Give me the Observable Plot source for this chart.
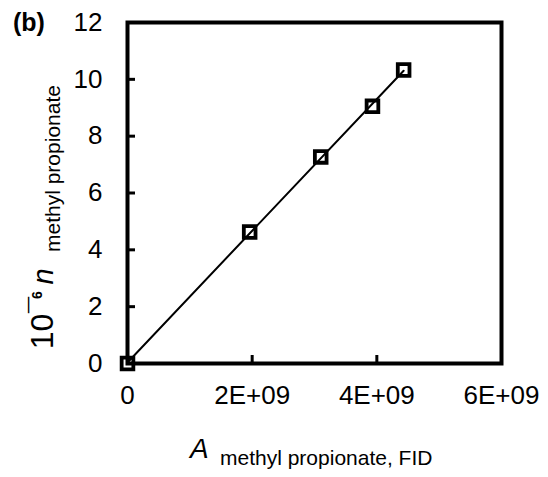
<!DOCTYPE html>
<html>
<head>
<meta charset="utf-8">
<script src="https://cdn.jsdelivr.net/npm/d3@7"></script>
<script src="https://cdn.jsdelivr.net/npm/@observablehq/plot@0.6"></script>
<style>
  html, body { margin: 0; padding: 0; background: white; }
  #chart { width: 548px; height: 477px; }
</style>
</head>
<body>
<div id="chart"></div>
<script>
// Data
const areaFID = [0, 1.96e9, 3.10e9, 3.93e9, 4.43e9];
const nMethylPropionate = [0, 4.63, 7.27, 9.05, 10.33];
const xTicks = [0, 2e9, 4e9, 6e9];
const xTickLabels = ["0", "2E+09", "4E+09", "6E+09"];
const yTicks = [0, 2, 4, 6, 8, 10, 12];

const data = areaFID.map((a, i) => ({a, n: nMethylPropionate[i]}));
const fmtX = d => xTickLabels[xTicks.indexOf(d)];

const font = "'Liberation Sans', Arial, Helvetica, sans-serif";

const svg = Plot.plot({
  width: 548,
  height: 477,
  marginLeft: 127,
  marginRight: 47,
  marginTop: 22,
  marginBottom: 114,
  style: {fontFamily: font, fontSize: "26px", color: "black", background: "white"},
  x: {domain: [0, 6e9]},
  y: {domain: [0, 12]},
  marks: [
    Plot.axisX({ticks: xTicks, tickFormat: fmtX, tickSize: -8, tickPadding: 30, strokeWidth: 3, label: null}),
    Plot.axisY({ticks: yTicks, tickSize: -8, tickPadding: 33, strokeWidth: 3, label: null}),
    Plot.frame({stroke: "black", strokeWidth: 4}),
    Plot.linearRegressionY(data, {x: "a", y: "n", ci: 0, stroke: "black", strokeWidth: 2}),
    Plot.dot(data, {x: "a", y: "n", symbol: "square", r: 6.6, stroke: "black", strokeWidth: 3.8, fill: "none"})
  ]
});
document.getElementById("chart").appendChild(svg);

const s = d3.select(svg);
// panel label
s.append("text").attr("x", 13).attr("y", 31).attr("text-anchor", "start")
  .attr("font-family", font).attr("font-size", 25).attr("font-weight", "bold")
  .attr("fill", "black").text("(b)");

// x-axis title
const xt = s.append("text").attr("font-family", font).attr("fill", "black").attr("text-anchor", "start");
xt.append("tspan").attr("x", 190).attr("y", 458).attr("font-size", 28).attr("font-style", "italic").text("A");
xt.append("tspan").attr("x", 220).attr("y", 465).attr("font-size", 21).text("methyl propionate, FID");

// y-axis title (rotated)
const g = s.append("g").attr("transform", "translate(53,0) rotate(-90)")
  .attr("font-family", font).attr("fill", "black");
g.append("text").attr("x", -331.5).attr("y", 0).attr("font-size", 32).attr("text-anchor", "middle").text("10");
g.append("text").attr("x", -305).attr("y", -3).attr("font-size", 29).attr("text-anchor", "middle").text("¯");
g.append("text").attr("x", -295).attr("y", -11).attr("font-size", 14).attr("font-weight", "bold").attr("text-anchor", "middle").text("6");
g.append("text").attr("x", -276.5).attr("y", 0).attr("font-size", 29).attr("font-style", "italic").attr("text-anchor", "middle").text("n");
g.append("text").attr("x", -252).attr("y", 7).attr("font-size", 21).attr("text-anchor", "start").text("methyl propionate");
</script>
</body>
</html>
